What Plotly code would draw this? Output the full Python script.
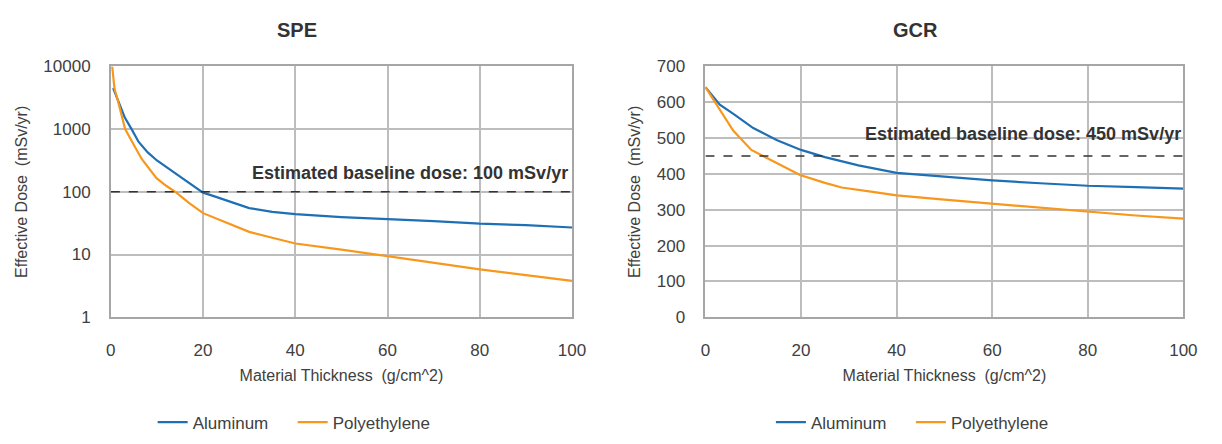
import plotly.graph_objects as go
import math

# Effective dose vs. shielding thickness (g/cm^2)
spe_al_x = [0.5, 1, 2, 3, 4.5, 6, 8, 10, 14, 17, 20, 22, 26, 30, 35, 40, 50, 60, 70, 77, 80, 90, 100]
spe_al_y = [4500, 3600, 2300, 1550, 1000, 630, 425, 316, 197, 138, 97, 87, 69, 55, 48, 44, 39.5, 37, 34, 32, 31, 29.5, 27]

spe_pe_x = [0.3, 0.8, 1.5, 3.1, 5, 6.7, 9.9, 12, 14.2, 17, 20, 25, 30, 35, 40, 50, 60, 70, 80, 90, 100]
spe_pe_y = [10000, 4400, 2900, 1000, 560, 334, 165, 125, 97, 66, 45.7, 32, 23, 18.5, 15, 12, 9.4, 7.3, 5.8, 4.7, 3.8]

gcr_al_x = [0, 3, 6, 10, 15, 20, 25, 32, 40, 50, 60, 70, 80, 90, 100]
gcr_al_y = [642, 593, 566, 528, 494, 467, 447, 424, 403, 392, 382, 374, 367, 363, 359]

gcr_pe_x = [0, 2.4, 5.8, 9.6, 11.3, 15, 19.8, 25, 28.5, 35, 40, 50, 60, 70, 80, 90, 100]
gcr_pe_y = [642, 593, 521, 467, 455, 429, 397, 375, 362, 350, 340, 328, 317, 305, 293, 284, 275]

spe_baseline = 100
gcr_baseline = 450

x_ticks = [0, 20, 40, 60, 80, 100]
spe_ticks = [1, 10, 100, 1000, 10000]
gcr_ticks = [0, 100, 200, 300, 400, 500, 600, 700]

BLUE = "#1F6FB5"
ORANGE = "#F7981D"
GRID = "#bdbdbd"
TEXT = "#404040"
FONT = "Liberation Sans Narrow, Arial Narrow, Liberation Sans, Arial, sans-serif"

fig = go.Figure()

fig.add_trace(go.Scatter(x=spe_al_x, y=spe_al_y, mode="lines", name="Aluminum",
                         line=dict(color=BLUE, width=2.2), xaxis="x", yaxis="y", legend="legend"))
fig.add_trace(go.Scatter(x=spe_pe_x, y=spe_pe_y, mode="lines", name="Polyethylene",
                         line=dict(color=ORANGE, width=2.2), xaxis="x", yaxis="y", legend="legend"))
fig.add_trace(go.Scatter(x=gcr_al_x, y=gcr_al_y, mode="lines", name="Aluminum",
                         line=dict(color=BLUE, width=2.2), xaxis="x2", yaxis="y2", legend="legend2"))
fig.add_trace(go.Scatter(x=gcr_pe_x, y=gcr_pe_y, mode="lines", name="Polyethylene",
                         line=dict(color=ORANGE, width=2.2), xaxis="x2", yaxis="y2", legend="legend2"))

axis_common = dict(
    showgrid=True, gridcolor=GRID, gridwidth=1.6,
    showline=True, linecolor="#a6a6a6", linewidth=1.6, mirror=True,
    ticks="", zeroline=False,
    tickfont=dict(family=FONT, size=17, color=TEXT),
    title_font=dict(family=FONT, size=16, color=TEXT),
)

y_dom = [1 - 322 / 444, 1 - 60 / 444]

legend_common = dict(orientation="h", xanchor="left", y=1 - 432 / 444, yanchor="middle",
                     font=dict(family=FONT, size=17, color=TEXT), itemwidth=30,
                     entrywidth=95, bgcolor="rgba(0,0,0,0)", tracegroupgap=0)

fig.update_layout(
    width=1222, height=444,
    margin=dict(l=0, r=0, t=0, b=0),
    paper_bgcolor="white", plot_bgcolor="white",
    font=dict(family=FONT, color=TEXT),
    xaxis=dict(axis_common, domain=[107.5 / 1222, 576 / 1222], range=[0, 100],
               tickvals=x_ticks, anchor="y", ticklabelstandoff=17,
               title=dict(text="Material Thickness  (g/cm^2)", standoff=10)),
    yaxis=dict(axis_common, domain=y_dom, type="log", range=[0, 4],
               tickvals=spe_ticks, ticktext=[str(v) for v in spe_ticks],
               anchor="x", ticklabelstandoff=15,
               title=dict(text="Effective Dose  (mSv/yr)", standoff=12)),
    xaxis2=dict(axis_common, domain=[711.5 / 1222, 1197 / 1222], range=[0, 100],
                tickvals=x_ticks, anchor="y2", ticklabelstandoff=17,
                title=dict(text="Material Thickness  (g/cm^2)", standoff=10)),
    yaxis2=dict(axis_common, domain=y_dom, range=[0, 700],
                tickvals=gcr_ticks, anchor="x2", ticklabelstandoff=15,
                title=dict(text="Effective Dose  (mSv/yr)", standoff=12)),
    legend=dict(legend_common, x=150 / 1222),
    legend2=dict(legend_common, x=778 / 1222),
    showlegend=True,
)

# Baseline dose reference lines
fig.add_shape(type="line", xref="x", yref="y", x0=0, x1=100,
              y0=spe_baseline, y1=spe_baseline,
              line=dict(color="#333333", width=1.5, dash="dash"))
fig.add_shape(type="line", xref="x2", yref="y2", x0=0, x1=100,
              y0=gcr_baseline, y1=gcr_baseline,
              line=dict(color="#333333", width=1.5, dash="dash"))

fig.add_annotation(xref="x", yref="y", x=100, y=math.log10(spe_baseline),
                   xanchor="right", yanchor="bottom", xshift=-2, yshift=7, showarrow=False,
                   text=f"<b>Estimated baseline dose: {spe_baseline} mSv/yr</b>",
                   font=dict(family=FONT, size=18, color="#333333"))
fig.add_annotation(xref="x2", yref="y2", x=100, y=gcr_baseline,
                   xanchor="right", yanchor="bottom", xshift=0, yshift=10, showarrow=False,
                   text=f"<b>Estimated baseline dose: {gcr_baseline} mSv/yr</b>",
                   font=dict(family=FONT, size=18, color="#333333"))

# Panel titles
fig.add_annotation(xref="paper", yref="paper", x=297 / 1222, y=1 - 22 / 444,
                   xanchor="center", yanchor="middle", showarrow=False,
                   text="<b>SPE</b>", font=dict(family=FONT, size=20, color="#333333"))
fig.add_annotation(xref="paper", yref="paper", x=925 / 1222, y=1 - 22 / 444,
                   xanchor="center", yanchor="middle", showarrow=False,
                   text="<b>GCR</b>", font=dict(family=FONT, size=20, color="#333333"))

fig.write_html("out.html")
